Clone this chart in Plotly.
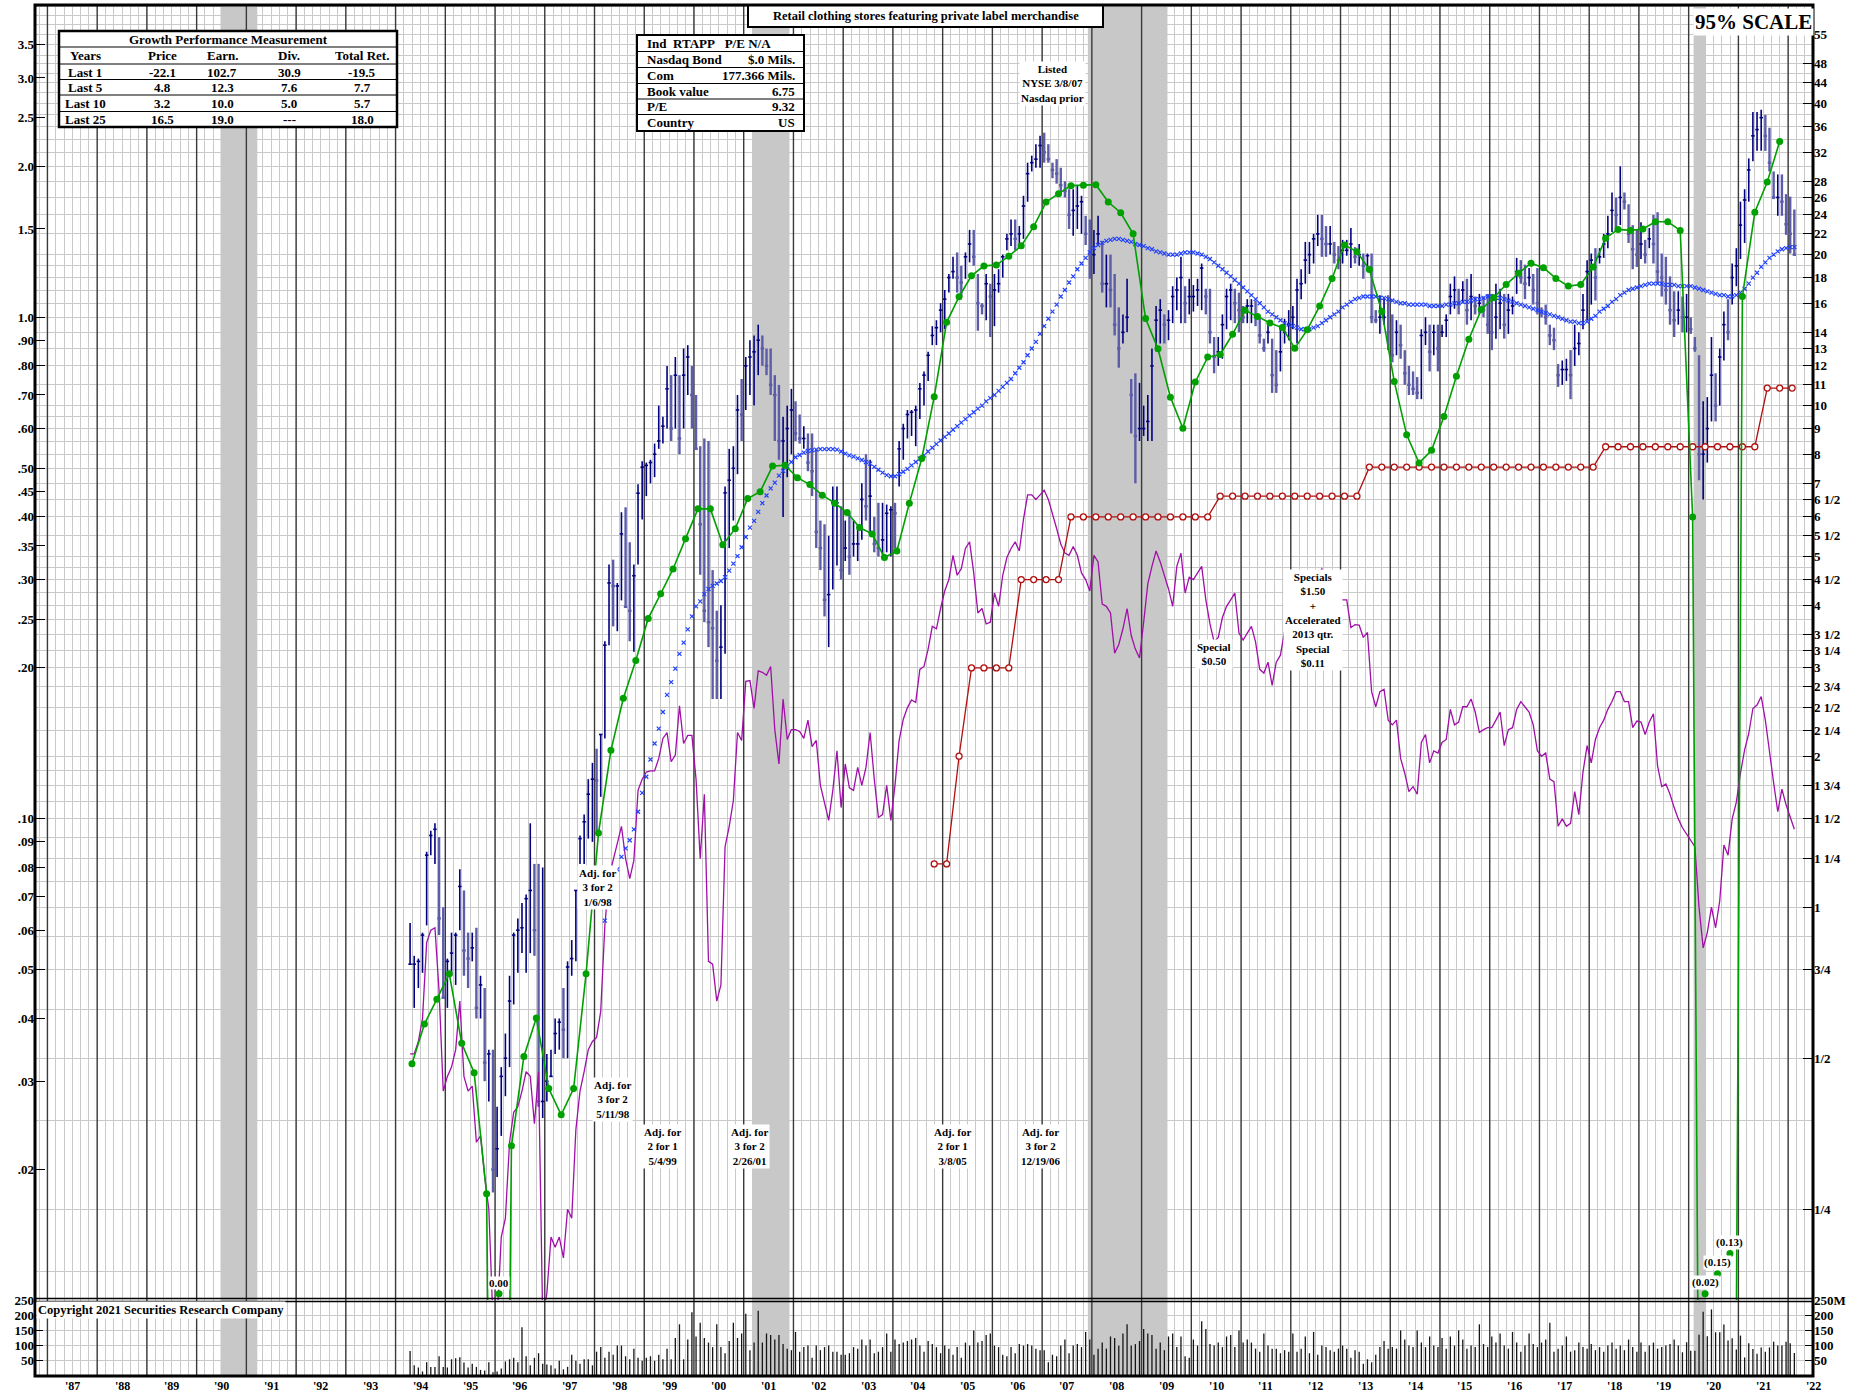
import math
import plotly.graph_objects as go

# ---------------- DATA ----------------
# Monthly price bars (right-hand price scale), first bar April 1994, last Feb 2022
price_high = [
    0.93, 0.80, 0.79, 0.89, 1.29, 1.42, 1.47, 1.38, 1.00,                       # 1994 Apr-Dec
    0.79, 0.89, 0.89, 1.19, 1.08, 0.89, 0.89, 0.91, 0.73, 0.69, 0.52, 0.52,     # 1995
    0.40, 0.48, 0.56, 0.73, 0.89, 0.95, 1.02, 1.06, 1.47, 1.22, 1.22, 1.20,     # 1996
    0.51, 0.52, 0.60, 0.60, 0.69, 0.78, 0.86, 1.08, 1.39, 1.53, 1.80, 1.94,     # 1997
    2.07, 2.21, 3.39, 4.82, 4.93, 4.43, 6.13, 6.27, 5.34, 4.82, 6.97, 7.75,     # 1998
    7.7, 7.8, 8.4, 10.0, 9.5, 12.0, 11.5, 12.5, 11.5, 13.0, 13.2, 12.0,         # 1999
    10.5, 8.3, 8.6, 8.5, 4.7, 3.9, 4.0, 6.9, 8.2, 8.3, 10.5, 11.3,              # 2000
    12.5, 13.5, 13.8, 14.5, 13.8, 13.0, 13.0, 11.5, 11.0, 9.5, 10.0, 10.8,      # 2001
    10.2, 9.6, 9.1, 8.8, 8.8, 8.2, 5.9, 5.8, 5.5, 6.9, 6.9, 6.3,                # 2002
    5.9, 6.1, 5.9, 5.8, 7.0, 8.0, 7.8, 6.0, 6.4, 6.4, 6.35, 6.3,                # 2003
    6.4, 8.5, 9.2, 9.8, 9.8, 10.0, 11.1, 11.7, 12.8, 14.4, 14.8, 16.0,          # 2004
    17.0, 18.3, 19.8, 20.2, 19.0, 20.2, 22.4, 22.4, 18.3, 16.0, 18.3, 17.5,     # 2005
    18.3, 18.7, 20.0, 22.0, 23.5, 23.5, 22.8, 26.2, 30.5, 31.5, 33.2, 34.5,     # 2006
    35.0, 33.2, 30.5, 31.0, 29.8, 28.0, 27.0, 27.0, 27.5, 26.2, 23.9, 23.5,     # 2007
    22.4, 23.9, 21.3, 20.0, 20.0, 18.3, 15.7, 15.2, 17.9, 11.3, 11.6, 11.1,     # 2008
    10.0, 10.5, 13.0, 15.8, 16.3, 15.2, 15.5, 17.3, 18.0, 19.8, 17.3, 17.9,     # 2009
    17.4, 17.9, 19.2, 17.1, 17.1, 13.7, 13.7, 15.2, 17.1, 17.5, 17.1, 16.8,     # 2010
    15.8, 16.3, 16.3, 16.2, 14.9, 13.6, 14.6, 13.6, 12.9, 14.4, 14.9, 15.5,     # 2011
    15.8, 17.9, 18.7, 21.2, 21.2, 22.0, 24.0, 24.0, 22.8, 22.8, 21.2, 20.8,     # 2012
    21.4, 21.4, 22.6, 20.7, 21.0, 20.1, 20.1, 20.1, 15.5, 16.6, 16.4, 16.6,     # 2013
    15.2, 14.8, 14.5, 12.9, 12.0, 11.7, 11.4, 14.2, 15.0, 14.5, 14.5, 14.5,     # 2014
    14.5, 15.2, 17.5, 18.1, 17.1, 17.7, 17.9, 18.3, 16.5, 16.7, 16.5, 16.7,     # 2015
    16.7, 17.5, 17.1, 16.7, 16.7, 16.5, 19.7, 19.5, 19.1, 18.8, 18.3, 18.8,     # 2016
    15.7, 15.9, 14.5, 14.3, 12.1, 12.3, 12.4, 12.9, 14.5, 14.0, 16.7, 19.5,     # 2017
    20.1, 20.6, 20.6, 22.0, 23.9, 26.6, 26.0, 30.0, 26.6, 25.2, 22.9, 22.4,     # 2018
    23.2, 21.4, 22.6, 24.0, 24.3, 20.1, 19.8, 18.1, 16.9, 16.9, 16.5, 16.7,     # 2019
    15.0, 13.7, 12.6, 10.2, 10.4, 13.7, 11.6, 13.0, 15.4, 16.3, 19.2, 20.6,     # 2020
    25.5, 27.0, 31.1, 38.5, 38.5, 38.9, 38.0, 35.8, 29.3, 28.9, 28.9, 26.4,     # 2021
    26.1, 24.6,                                                                 # 2022 Jan-Feb
]
price_low = [
    0.77, 0.63, 0.69, 0.74, 0.92, 1.27, 1.22, 0.88, 0.66,
    0.63, 0.73, 0.70, 0.90, 0.73, 0.69, 0.78, 0.60, 0.60, 0.45, 0.41, 0.27,
    0.29, 0.35, 0.42, 0.48, 0.64, 0.74, 0.81, 0.74, 0.81, 0.80, 0.40, 0.38,
    0.41, 0.46, 0.51, 0.52, 0.50, 0.50, 0.73, 0.78, 1.22, 1.22, 1.37, 1.35,
    1.42, 1.66, 2.17, 3.33, 3.63, 3.55, 4.09, 3.97, 3.39, 3.23, 4.82, 5.93,
    6.6, 7.0, 7.2, 8.2, 8.4, 9.0, 8.5, 9.0, 8.0, 9.0, 10.5, 9.0,
    8.2, 4.6, 3.7, 3.3, 2.6, 2.6, 2.6, 3.2, 5.2, 5.9, 7.3, 8.5,
    9.8, 10.5, 10.0, 11.5, 12.0, 11.5, 10.5, 8.5, 7.8, 6.0, 7.2, 8.0,
    8.5, 8.4, 8.2, 7.4, 6.6, 5.2, 4.7, 3.8, 3.3, 4.3, 4.8, 4.5,
    4.9, 4.6, 5.0, 4.9, 5.4, 5.9, 5.6, 5.1, 5.0, 5.0, 5.1, 5.0,
    5.2, 6.9, 7.8, 8.6, 8.7, 8.3, 9.4, 10.0, 11.2, 13.2, 13.2, 14.0,
    14.2, 16.8, 17.9, 16.8, 16.5, 17.9, 19.3, 19.0, 14.1, 15.2, 14.8, 13.7,
    14.4, 16.8, 18.0, 20.4, 20.8, 20.4, 20.8, 21.5, 25.5, 29.3, 29.8, 29.8,
    30.5, 30.5, 28.4, 27.7, 26.4, 26.0, 22.5, 21.8, 22.5, 22.0, 20.9, 17.9,
    18.3, 20.9, 16.8, 15.7, 15.7, 13.8, 11.9, 13.3, 14.0, 8.8, 7.0, 8.5,
    8.7, 8.5, 8.5, 13.0, 13.3, 13.3, 13.5, 14.6, 15.5, 14.6, 14.6, 15.2,
    15.4, 15.8, 15.5, 15.2, 13.3, 11.6, 12.0, 12.4, 14.2, 14.8, 14.6, 14.0,
    14.6, 14.6, 14.6, 14.4, 13.3, 12.8, 13.3, 10.6, 10.6, 11.7, 13.3, 13.5,
    14.2, 13.3, 16.3, 17.5, 18.3, 19.2, 20.8, 19.8, 19.8, 20.0, 19.2, 18.7,
    19.2, 19.9, 18.8, 19.2, 19.0, 17.9, 18.8, 14.6, 14.6, 13.9, 14.5, 12.9,
    12.2, 12.6, 12.4, 11.0, 10.5, 10.5, 10.3, 10.3, 13.2, 11.7, 12.6, 11.7,
    13.7, 13.7, 15.2, 15.6, 15.2, 16.0, 14.5, 14.8, 15.2, 15.2, 15.0, 13.9,
    12.9, 13.6, 14.2, 13.6, 13.9, 15.2, 16.7, 17.5, 16.3, 17.3, 15.9, 15.2,
    15.0, 14.5, 13.2, 12.9, 10.9, 11.0, 11.2, 10.3, 12.0, 12.6, 14.2, 14.8,
    15.9, 16.2, 19.2, 19.7, 20.6, 22.2, 22.4, 22.9, 24.6, 21.1, 18.7, 18.9,
    19.6, 19.2, 20.6, 19.2, 17.5, 16.5, 15.9, 14.5, 13.7, 14.5, 14.0, 14.0,
    13.9, 12.8, 7.1, 6.5, 7.7, 9.3, 9.3, 10.0, 12.3, 13.5, 15.9, 17.3,
    19.6, 21.1, 25.5, 30.7, 32.2, 32.2, 32.2, 29.3, 25.8, 23.9, 23.9, 21.9,
    20.1, 19.9,
]
price_close = [
    0.77, 0.77, 0.78, 0.88, 1.27, 1.39, 1.43, 0.95, 0.66,
    0.78, 0.81, 0.88, 1.10, 0.82, 0.79, 0.83, 0.63, 0.70, 0.49, 0.51, 0.30,
    0.33, 0.46, 0.50, 0.65, 0.88, 0.90, 0.91, 1.04, 1.08, 0.90, 0.41, 0.41,
    0.45, 0.46, 0.56, 0.59, 0.57, 0.76, 0.79, 1.08, 1.37, 1.48, 1.68, 1.80,
    1.79, 2.21, 3.33, 4.43, 4.37, 4.37, 5.55, 3.97, 3.90, 4.58, 6.69, 7.54,
    7.6, 7.7, 8.0, 8.5, 9.1, 10.8, 9.0, 11.5, 8.6, 11.5, 12.5, 10.5,
    8.2, 5.8, 3.9, 3.7, 3.6, 3.1, 3.3, 6.7, 7.1, 7.5, 9.8, 9.6,
    12.0, 12.5, 12.8, 13.5, 13.0, 12.0, 11.0, 10.5, 8.5, 8.5, 9.0, 9.8,
    8.8, 8.6, 8.6, 7.7, 7.4, 5.6, 5.2, 4.1, 4.2, 6.4, 6.4, 4.7,
    5.2, 5.0, 5.3, 5.3, 6.5, 6.3, 6.6, 5.3, 5.2, 5.4, 6.1, 6.2,
    6.1, 8.2, 9.0, 9.6, 9.7, 9.8, 10.8, 11.5, 12.6, 13.8, 14.3, 15.5,
    16.3, 18.0, 18.5, 18.0, 17.6, 19.8, 21.0, 19.8, 16.0, 15.8, 17.5, 16.5,
    17.0, 17.5, 19.8, 21.5, 22.0, 21.5, 22.0, 25.0, 29.0, 30.5, 31.0, 33.0,
    32.0, 31.0, 29.5, 29.0, 27.5, 26.8, 24.0, 24.5, 25.0, 25.5, 22.0, 20.0,
    20.0, 22.0, 17.5, 17.5, 17.0, 14.5, 13.0, 14.0, 15.0, 10.5, 8.7, 9.0,
    9.0, 9.3, 12.0, 14.8, 15.5, 14.5, 14.8, 16.5, 17.0, 18.0, 16.0, 16.5,
    16.5, 17.0, 18.8, 16.5, 14.0, 12.5, 12.8, 14.5, 16.5, 17.0, 16.0, 15.5,
    15.0, 15.8, 15.8, 15.0, 13.8, 13.0, 14.0, 11.5, 11.0, 12.8, 14.0, 14.5,
    15.0, 17.0, 17.5, 19.5, 20.0, 21.5, 22.0, 21.5, 21.0, 21.0, 20.0, 19.5,
    20.4, 20.4, 21.0, 19.8, 20.0, 19.0, 19.9, 15.0, 14.8, 15.0, 15.0, 14.0,
    12.6, 14.0, 13.2, 11.6, 11.0, 10.8, 10.6, 13.8, 14.0, 12.8, 14.0, 13.0,
    14.0, 14.8, 16.5, 17.0, 16.0, 17.0, 15.5, 16.5, 15.8, 16.0, 15.5, 14.5,
    14.0, 15.0, 16.0, 14.5, 15.5, 15.8, 18.5, 18.0, 17.5, 18.0, 17.0, 16.0,
    15.3, 15.0, 13.8, 13.5, 11.5, 11.8, 11.8, 11.5, 13.0, 13.3, 15.5, 18.5,
    19.5, 18.0, 19.8, 21.0, 22.0, 24.5, 24.0, 26.0, 25.5, 22.0, 20.5, 20.0,
    21.0, 20.0, 21.5, 21.0, 18.5, 18.0, 17.0, 15.5, 14.8, 15.5, 15.0, 15.0,
    14.2, 13.0, 8.0, 8.0, 9.0, 11.5, 10.0, 12.5, 14.5, 14.0, 18.0, 19.0,
    22.9, 25.7, 29.5, 34.5, 35.5, 37.5, 34.5, 30.5, 26.0, 26.0, 25.5, 23.0,
    22.0, 20.0,
]

# Moving average (blue x's), monthly from March 1998
ma_values = [
    0.94, 1.02, 1.11, 1.19, 1.26, 1.31, 1.36, 1.43, 1.55, 1.69,                  # 1998 Mar-Dec
    1.82, 1.97, 2.12, 2.27, 2.45, 2.65, 2.81, 2.99, 3.20, 3.37, 3.58, 3.80,      # 1999
    3.98, 4.07, 4.21, 4.31, 4.37, 4.42, 4.47, 4.55, 4.69, 4.84, 5.01, 5.22,      # 2000
    5.47, 5.71, 5.89, 6.14, 6.39, 6.62, 6.84, 7.02, 7.25, 7.41, 7.56, 7.72,      # 2001
    7.89, 7.97, 8.06, 8.12, 8.14, 8.17, 8.19, 8.19, 8.19, 8.19, 8.17, 8.10,      # 2002
    8.02, 7.96, 7.91, 7.85, 7.79, 7.72, 7.66, 7.55, 7.45, 7.35, 7.27, 7.23,      # 2003
    7.23, 7.30, 7.38, 7.48, 7.60, 7.72, 7.84, 7.96, 8.10, 8.24, 8.38, 8.52,      # 2004
    8.66, 8.80, 8.95, 9.10, 9.25, 9.40, 9.55, 9.70, 9.86, 10.0, 10.2, 10.35,     # 2005
    10.5, 10.7, 10.9, 11.1, 11.3, 11.6, 11.9, 12.2, 12.6, 13.0, 13.4, 13.9,      # 2006
    14.4, 14.9, 15.4, 15.9, 16.5, 17.0, 17.6, 18.1, 18.7, 19.2, 19.7, 20.2,      # 2007
    20.6, 20.9, 21.1, 21.3, 21.4, 21.5, 21.5, 21.4, 21.3, 21.2, 21.0, 20.9,      # 2008
    20.8, 20.6, 20.5, 20.3, 20.2, 20.1, 20.0, 20.0, 20.0, 20.1, 20.2, 20.2,      # 2009
    20.2, 20.1, 20.0, 19.8, 19.6, 19.3, 19.0, 18.7, 18.4, 18.1, 17.8, 17.5,      # 2010
    17.2, 16.9, 16.6, 16.3, 16.0, 15.7, 15.4, 15.2, 15.0, 14.8, 14.6, 14.5,      # 2011
    14.4, 14.3, 14.2, 14.2, 14.2, 14.3, 14.4, 14.6, 14.8, 15.0, 15.2, 15.4,      # 2012
    15.7, 15.9, 16.1, 16.3, 16.4, 16.5, 16.5, 16.5, 16.5, 16.4, 16.4, 16.3,      # 2013
    16.2, 16.1, 16.0, 16.0, 15.9, 15.9, 15.9, 15.9, 15.9, 15.8, 15.8, 15.8,      # 2014
    15.8, 15.9, 15.9, 16.0, 16.0, 16.1, 16.1, 16.2, 16.3, 16.3, 16.4, 16.5,      # 2015
    16.5, 16.4, 16.4, 16.3, 16.2, 16.1, 16.0, 15.9, 15.8, 15.7, 15.6, 15.5,      # 2016
    15.4, 15.3, 15.2, 15.1, 15.0, 14.9, 14.8, 14.7, 14.7, 14.6, 14.6, 14.7,      # 2017
    14.9, 15.1, 15.4, 15.6, 15.8, 16.1, 16.3, 16.6, 16.8, 17.0, 17.1, 17.2,      # 2018
    17.3, 17.4, 17.5, 17.5, 17.5, 17.5, 17.4, 17.4, 17.4, 17.3, 17.3, 17.3,      # 2019
    17.3, 17.2, 17.1, 17.0, 16.9, 16.8, 16.7, 16.6, 16.6, 16.5, 16.5, 16.6,      # 2020
    16.8, 17.1, 17.5, 18.0, 18.4, 18.9, 19.3, 19.7, 20.0, 20.3, 20.5, 20.6,      # 2021
    20.7, 20.7,                                                                  # 2022
]

# Relative strength line (magenta), monthly from April 1994
rs_values = [
    0.51, 0.51, 0.54, 0.60, 0.85, 0.90, 0.91, 0.68, 0.43,
    0.46, 0.48, 0.52, 0.65, 0.46, 0.43, 0.44, 0.34, 0.35, 0.29, 0.25, 0.15,
    0.15, 0.22, 0.24, 0.34, 0.39, 0.40, 0.43, 0.47, 0.46, 0.37, 0.47, 0.15,
    0.17, 0.22, 0.21, 0.22, 0.20, 0.25, 0.24, 0.36, 0.43, 0.47, 0.52, 0.54,
    0.55, 0.62, 0.92, 1.15, 1.25, 1.34, 1.45, 1.25, 1.14, 1.24, 1.71, 1.80,
    1.86, 1.87, 1.87, 1.98, 2.17, 2.23, 1.95, 2.01, 2.52, 2.12, 2.20, 2.20,
    1.80, 1.25, 1.68, 0.78, 0.77, 0.65, 0.70, 1.32, 1.45, 1.63, 2.23, 2.15,
    2.82, 2.83, 2.49, 2.96, 2.94, 2.90, 3.02, 2.26, 1.93, 2.60, 2.16, 2.26,
    2.26, 2.24, 2.17, 2.36, 2.09, 2.15, 1.75, 1.62, 1.49, 1.71, 2.05, 1.58,
    1.93, 1.73, 1.71, 1.90, 1.75, 1.90, 2.23, 1.80, 1.51, 1.53, 1.75, 1.49,
    1.75, 2.15, 2.37, 2.50, 2.59, 2.56, 2.98, 3.02, 3.27, 3.63, 3.59, 3.94,
    4.27, 4.50, 5.03, 4.59, 4.73, 5.19, 5.35, 4.64, 3.86, 3.94, 3.67, 3.70,
    4.23, 3.98, 4.59, 4.98, 5.19, 5.35, 5.13, 5.93, 6.64, 6.64, 6.50, 6.64,
    6.78, 6.50, 6.11, 5.69, 5.30, 5.08, 5.03, 5.24, 5.03, 4.64, 4.50, 4.27,
    5.03, 4.88, 4.02, 3.98, 3.86, 3.21, 3.34, 3.59, 3.94, 3.48, 3.27, 3.14,
    3.70, 4.41, 4.78, 5.13, 4.88, 4.59, 4.31, 3.98, 4.78, 5.08, 4.23, 4.55,
    4.50, 4.64, 4.78, 4.10, 3.67, 3.38, 3.45, 3.78, 3.98, 4.10, 4.23, 3.52,
    3.41, 3.52, 3.63, 3.38, 2.98, 2.93, 3.08, 2.77, 3.08, 3.18, 3.55, 3.45,
    3.55, 3.75, 3.95, 4.10, 4.25, 4.40, 4.60, 4.73, 4.55, 4.40, 4.25, 4.15,
    4.10, 4.10, 3.61, 3.66, 3.65, 3.45, 3.53, 2.69, 2.51, 2.69, 2.72, 2.36,
    2.31, 2.36, 1.98, 1.85, 1.70, 1.74, 1.68, 2.13, 2.21, 1.94, 2.05, 2.03,
    2.13, 2.16, 2.48, 2.31, 2.34, 2.51, 2.51, 2.60, 2.45, 2.23, 2.26, 2.28,
    2.28, 2.36, 2.45, 2.10, 2.26, 2.28, 2.48, 2.57, 2.51, 2.45, 2.31, 2.05,
    2.00, 2.03, 1.80, 1.78, 1.45, 1.50, 1.45, 1.47, 1.70, 1.53, 1.86, 2.10,
    1.94, 2.16, 2.28, 2.36, 2.48, 2.57, 2.69, 2.69, 2.57, 2.57, 2.28, 2.35,
    2.34, 2.21, 2.34, 2.43, 1.91, 1.74, 1.76, 1.68, 1.58, 1.50, 1.44, 1.40,
    1.36, 1.32, 1.00, 0.83, 0.89, 1.00, 0.91, 1.03, 1.33, 1.27, 1.50, 1.62,
    1.85, 2.06, 2.22, 2.49, 2.53, 2.63, 2.36, 2.03, 1.77, 1.55, 1.72, 1.60,
    1.51, 1.43,
]

# Monthly volume (millions of shares), from April 1994
volume_values = [
    82, 35, 28, 15, 45, 30, 30, 65, 30,
    28, 55, 58, 62, 44, 28, 40, 30, 20, 18, 45, 12,
    15, 25, 48, 55, 60, 45, 160, 65, 35, 60, 75, 40,
    38, 35, 25, 50, 22, 30, 70, 50, 40, 55, 55, 35,
    80, 95, 60, 80, 70, 100, 100, 65, 55, 90, 60, 50,
    60, 65, 50, 70, 55, 90, 55, 125, 170, 55, 120, 210,
    130, 175, 125, 110, 95, 170, 95, 75, 115, 175, 125, 140,
    205, 85, 110, 215, 110, 140, 135, 120, 135, 105, 90, 85,
    145, 80, 95, 100, 60, 100, 85, 95, 100, 80, 80, 70,
    70, 75, 95, 90, 120, 100, 120, 75, 80, 95, 140, 80,
    120, 105, 110, 115, 120, 125, 100, 80, 115, 105, 95, 75,
    100, 90, 70, 95, 60, 110, 100, 150, 110, 115, 135, 140,
    100, 95, 70, 65, 95, 75, 105, 100, 105, 100, 90, 85,
    85, 45, 70, 65, 100, 120, 75, 100, 105, 95, 145, 120,
    70, 90, 110, 90, 130, 125, 100, 140, 170, 100, 105, 115,
    155, 140, 135, 90, 110, 85, 130, 140, 95, 130, 65, 60,
    120, 100, 180, 155, 105, 100, 110, 95, 130, 135, 95, 150,
    110, 120, 110, 90, 80, 140, 100, 90, 90, 75, 85, 80,
    140, 80, 90, 130, 75, 145, 70, 100, 95, 85, 80, 90,
    100, 90, 60, 85, 80, 40, 55, 45, 70, 95, 115, 90,
    95, 90, 150, 120, 100, 95, 150, 110, 95, 130, 100, 95,
    125, 90, 130, 100, 150, 120, 90, 100, 95, 170, 105, 95,
    130, 110, 140, 100, 90, 145, 110, 80, 100, 140, 105, 95,
    110, 120, 175, 80, 90, 100, 130, 80, 85, 110, 95, 90,
    105, 85, 95, 80, 100, 110, 90, 100, 85, 120, 95, 80,
    110, 80, 100, 110, 90, 95, 100, 105, 120, 100, 78, 111,
    83, 83, 136, 211, 131, 219, 144, 144, 169, 117, 124, 87,
    133, 61, 108, 89, 73, 94, 80, 94, 113, 100, 100, 113,
    108, 76,
]

# Quarterly 12-month earnings per share (left-hand scale), first point end of April 1994
eps_values = [
    0.0325, 0.0390, 0.0437, 0.0491, 0.0357, 0.0312, 0.0179, 0.00, 0.0223, 0.0336,
    0.0401, 0.0290, 0.0257, 0.0290, 0.0491, 0.0937, 0.137, 0.174, 0.207, 0.251,
    0.281, 0.315, 0.362, 0.415, 0.415, 0.352, 0.379, 0.435, 0.449, 0.505,
    0.507, 0.479, 0.464, 0.442, 0.426, 0.408, 0.381, 0.370, 0.332, 0.342,
    0.426, 0.523, 0.694, 0.977, 1.099, 1.210, 1.266, 1.271, 1.324, 1.388,
    1.516, 1.697, 1.764, 1.830, 1.834, 1.838, 1.697, 1.616, 1.467, 0.994,
    0.865, 0.693, 0.601, 0.743, 0.833, 0.843, 0.925, 1.033, 1.004, 0.974,
    0.954, 0.867, 0.944, 1.053, 1.195, 1.394, 1.351, 1.245, 1.027, 0.745,
    0.583, 0.512, 0.543, 0.634, 0.763, 0.904, 1.036, 1.094, 1.162, 1.224,
    1.282, 1.256, 1.195, 1.154, 1.162, 1.259, 1.438, 1.497, 1.49, 1.50,
    1.55, 1.55, 1.49, 0.40, -0.02, -0.15, -0.13, 1.10, 1.62, 1.86,
    2.24,
]
eps_labels = {7: "0.00", 104: "(0.02)", 105: "(0.15)", 106: "(0.13)"}

# Quarterly dividend line (price scale), first point late 2004
div_values = (
    [1.22, 1.22, 2.0] + [3.0] * 4 + [4.5] * 4 + [6.0] * 12 + [6.6] * 12
    + [7.54] * 19 + [8.28] * 13 + [10.84] * 3
)

recessions = [(1990.48, 1991.22), (2001.17, 2001.92), (2007.92, 2009.52), (2020.10, 2020.35)]

left_ticks = [3.5, 3.0, 2.5, 2.0, 1.5, 1.0, 0.9, 0.8, 0.7, 0.6, 0.5, 0.45, 0.4, 0.35,
              0.3, 0.25, 0.2, 0.1, 0.09, 0.08, 0.07, 0.06, 0.05, 0.04, 0.03, 0.02]
left_labels = ["3.5", "3.0", "2.5", "2.0", "1.5", "1.0", ".90", ".80", ".70", ".60", ".50",
               ".45", ".40", ".35", ".30", ".25", ".20", ".10", ".09", ".08", ".07", ".06",
               ".05", ".04", ".03", ".02"]
right_ticks = [55, 48, 44, 40, 36, 32, 28, 26, 24, 22, 20, 18, 16, 14, 13, 12, 11, 10, 9, 8, 7,
               6.5, 6, 5.5, 5, 4.5, 4, 3.5, 3.25, 3, 2.75, 2.5, 2.25, 2, 1.75, 1.5, 1.25, 1,
               0.75, 0.5, 0.25]
right_labels = ["55", "48", "44", "40", "36", "32", "28", "26", "24", "22", "20", "18", "16",
                "14", "13", "12", "11", "10", "9", "8", "7", "6 1/2", "6", "5 1/2", "5",
                "4 1/2", "4", "3 1/2", "3 1/4", "3", "2 3/4", "2 1/2", "2 1/4", "2", "1 3/4",
                "1 1/2", "1 1/4", "1", "3/4", "1/2", "1/4"]
vol_ticks = [50, 100, 150, 200, 250]
years = list(range(1987, 2023))

growth_rows = [
    ["Last 1", "-22.1", "102.7", "30.9", "-19.5"],
    ["Last 5", "4.8", "12.3", "7.6", "7.7"],
    ["Last 10", "3.2", "10.0", "5.0", "5.7"],
    ["Last 25", "16.5", "19.0", "---", "18.0"],
]
growth_header = ["Years", "Price", "Earn.", "Div.", "Total Ret."]
info_rows = [
    ("Ind&nbsp;&nbsp;RTAPP&nbsp;&nbsp;&nbsp;P/E N/A", ""),
    ("Nasdaq Bond", "$.0 Mils."),
    ("Com", "177.366 Mils."),
    ("Book value", "6.75"),
    ("P/E", "9.32"),
    ("Country", "US"),
]

# ---------------- LAYOUT CONSTANTS ----------------
FIG_W, FIG_H = 1860, 1393
L, R, T, B = 35, 1813, 5, 1376
SPLIT = 1300
EPS_RATIO = 15.0          # earnings scale = price scale / 15
P_TOP, P_BOT = 62.9, 0.1648
W, H = R - L, B - T


def px(x):
    return (x - L) / W


def py(y):
    return (B - y) / H


FONT = "Liberation Serif"
NAVY = "#000080"
NAVY_LIGHT = "#5c5ca8"
GREEN = "#00a000"
RED = "#b01010"
MAGENTA = "#a010a8"
BLUE = "#2040ff"
GRID = "#c9c9c9"


def frange(a, b, step):
    out, k = [], 0
    while a + k * step <= b + 1e-9:
        out.append(round(a + k * step, 4))
        k += 1
    return out


# horizontal price-panel grid (chart-paper ruling)
price_grid = ([0.1875] + frange(0.25, 2.0, 0.125) + frange(2.25, 5.0, 0.25)
              + frange(5.5, 10.0, 0.5) + frange(11, 20, 1) + frange(22, 50, 2)
              + frange(52.5, 62.5, 2.5))


def month_times(y, m, n):
    out = []
    for _ in range(n):
        out.append(y + (m - 0.5) / 12.0)
        m += 1
        if m > 12:
            m, y = 1, y + 1
    return out


t_price = month_times(1994, 4, len(price_close))
t_ma = month_times(1998, 3, len(ma_values))
t_rs = month_times(1994, 4, len(rs_values))
t_vol = month_times(1994, 4, len(volume_values))
t_eps = [1994.33 + 0.25 * i for i in range(len(eps_values))]
t_div = [2004.83 + 0.25 * i for i in range(len(div_values))]

fig = go.Figure()
PY_LO, PY_HI = 0.01, 1000.0

# invisible anchors so the left earnings axis and right volume axis are drawn
fig.add_trace(go.Scatter(x=[1986.8], y=[1.0], mode="markers", marker=dict(opacity=0),
                         yaxis="y", hoverinfo="skip"))
fig.add_trace(go.Scatter(x=[1986.8], y=[100], mode="markers", marker=dict(opacity=0),
                         yaxis="y4", hoverinfo="skip"))

# recession shading (price and volume panels)
for a, b in recessions:
    fig.add_trace(go.Scatter(x=[a, b, b, a, a], y=[PY_LO, PY_LO, PY_HI, PY_HI, PY_LO],
                             fill="toself", fillcolor="#c8c8c8", mode="lines",
                             line=dict(width=0), yaxis="y2", hoverinfo="skip"))
    fig.add_trace(go.Scatter(x=[a, b, b, a, a], y=[0, 0, 300, 300, 0],
                             fill="toself", fillcolor="#c8c8c8", mode="lines",
                             line=dict(width=0), yaxis="y3", hoverinfo="skip"))

# dark year lines
yl_x, yl_y, yv_y = [], [], []
for yv in years:
    yl_x += [yv, yv, None]
    yl_y += [PY_LO, PY_HI, None]
    yv_y += [0, 300, None]
fig.add_trace(go.Scatter(x=yl_x, y=yl_y, mode="lines", line=dict(color="#3a3a3a", width=1.4),
                         yaxis="y2", hoverinfo="skip"))
fig.add_trace(go.Scatter(x=yl_x, y=yv_y, mode="lines", line=dict(color="#3a3a3a", width=1.4),
                         yaxis="y3", hoverinfo="skip"))

# volume
vx, vy = [], []
for t, v in zip(t_vol, volume_values):
    vx += [t, t, None]
    vy += [0, v, None]
fig.add_trace(go.Scatter(x=vx, y=vy, mode="lines", line=dict(color="#151515", width=1.3),
                         yaxis="y3", hoverinfo="skip"))

# price bars
ux, uy, dx, dy = [], [], [], []
prev = None
for t, h, lo, c in zip(t_price, price_high, price_low, price_close):
    up = prev is None or c >= prev
    xs, ys = (ux, uy) if up else (dx, dy)
    xs += [t, t, None, t - 0.035, t + 0.035, None]
    ys += [lo, h, None, c, c, None]
    prev = c
fig.add_trace(go.Scatter(x=dx, y=dy, mode="lines", line=dict(color=NAVY_LIGHT, width=2.4),
                         yaxis="y2", hoverinfo="skip"))
fig.add_trace(go.Scatter(x=ux, y=uy, mode="lines", line=dict(color=NAVY, width=1.6),
                         yaxis="y2", hoverinfo="skip"))

# relative strength
fig.add_trace(go.Scatter(x=t_rs, y=rs_values, mode="lines", line=dict(color=MAGENTA, width=1.3),
                         yaxis="y2", hoverinfo="skip"))

# moving average
fig.add_trace(go.Scatter(x=t_ma, y=ma_values, mode="markers",
                         marker=dict(symbol="x-thin", size=4, line=dict(color=BLUE, width=1.2)),
                         yaxis="y2", hoverinfo="skip"))

# dividends
fig.add_trace(go.Scatter(x=t_div, y=div_values, mode="lines+markers",
                         line=dict(color=RED, width=1.3),
                         marker=dict(symbol="circle", size=6, color="white",
                                     line=dict(color=RED, width=1.3)),
                         yaxis="y2", hoverinfo="skip"))

# earnings, drawn on the price scale at 15x (the left-hand scale); deficits drop off the bottom
eps_plot = [v * EPS_RATIO if v > 0 else 1e-3 for v in eps_values]
fig.add_trace(go.Scatter(x=t_eps, y=eps_plot, mode="lines+markers",
                         line=dict(color=GREEN, width=1.6),
                         marker=dict(symbol="circle", size=7, color=GREEN),
                         yaxis="y2", hoverinfo="skip"))
deficit_levels = [0.0113, 0.0113, 0.0124, 0.0136]   # plotting heights (earnings scale) of deficit marks
def_idx = sorted(eps_labels)
fig.add_trace(go.Scatter(x=[t_eps[i] for i in def_idx], y=[v * EPS_RATIO for v in deficit_levels],
                         mode="markers", marker=dict(symbol="circle", size=7, color=GREEN),
                         yaxis="y2", hoverinfo="skip", cliponaxis=False))

annotations = []
shapes = []
bold = dict(family=FONT, weight="bold", color="black")


def note(x, y, text, size=13, xanchor="center", bg=None, **kw):
    d = dict(x=px(x), y=py(y), xref="paper", yref="paper", text=text, showarrow=False,
             xanchor=xanchor, yanchor="middle", font=dict(size=size, **bold), align="center")
    if bg:
        d.update(bgcolor=bg, borderpad=1)
    d.update(kw)
    annotations.append(d)


for i, lev in zip(def_idx, deficit_levels):
    annotations.append(dict(x=t_eps[i], y=math.log10(lev * EPS_RATIO), xref="x", yref="y2",
                            text=eps_labels[i], showarrow=False, yshift=11,
                            xanchor="center", yanchor="middle",
                            font=dict(size=11, **bold), bgcolor="white", borderpad=0))

# year labels
for yv in years:
    annotations.append(dict(x=yv + 0.5, y=0, xref="x", yref="paper", yanchor="top",
                            xanchor="center", text="'%02d" % (yv % 100), showarrow=False,
                            yshift=-1, font=dict(size=12, **bold)))

# event notes
notes = [
    (597, 887, "Adj. for<br>3 for 2<br>1/6/98"),
    (612, 1099, "Adj. for<br>3 for 2<br>5/11/98"),
    (662, 1146, "Adj. for<br>2 for 1<br>5/4/99"),
    (749, 1146, "Adj. for<br>3 for 2<br>2/26/01"),
    (953, 1146, "Adj. for<br>2 for 1<br>3/8/05"),
    (1041, 1146, "Adj. for<br>3 for 2<br>12/19/06"),
    (1052, 84, "Listed<br>NYSE 3/8/07<br>Nasdaq prior"),
    (1214, 654, "Special<br>$0.50"),
    (1313, 620, "Specials<br>$1.50<br>+<br>Accelerated<br>2013 qtr.<br>Special<br>$0.11"),
]
for x, y, txt in notes:
    note(x, y, txt, size=11, bg="white")

# Growth table
shapes.append(dict(type="rect", xref="paper", yref="paper", x0=px(59), x1=px(397),
                   y0=py(127), y1=py(31), fillcolor="white", line=dict(color="black", width=2.5),
                   layer="above"))
for yy in [47, 64, 79.5, 95, 111.5]:
    shapes.append(dict(type="line", xref="paper", yref="paper", x0=px(59), x1=px(397),
                       y0=py(yy), y1=py(yy), line=dict(color="black", width=1), layer="above"))
note(228, 39.5, "Growth Performance Measurement")
col_x = [85, 162, 222, 289, 362]
for cx, txt in zip(col_x, growth_header):
    note(cx, 56, txt)
for ry, row in zip([72, 87.5, 103.5, 119.5], growth_rows):
    for cx, txt in zip(col_x, row):
        note(cx, ry, txt)

# Info box
shapes.append(dict(type="rect", xref="paper", yref="paper", x0=px(637), x1=px(804),
                   y0=py(131), y1=py(35), fillcolor="white", line=dict(color="black", width=2),
                   layer="above"))
for yy in [51.5, 67.5, 83.5, 99, 114.5]:
    shapes.append(dict(type="line", xref="paper", yref="paper", x0=px(637), x1=px(804),
                       y0=py(yy), y1=py(yy), line=dict(color="black", width=1), layer="above"))
for ry, (lt, rt) in zip([43.5, 59.5, 75.5, 91.3, 106.8, 122.8], info_rows):
    note(645, ry, lt, xanchor="left")
    if rt:
        note(797, ry, rt, xanchor="right")

# Title box
shapes.append(dict(type="rect", xref="paper", yref="paper", x0=px(748), x1=px(1103),
                   y0=py(27), y1=py(5), fillcolor="white", line=dict(color="black", width=2),
                   layer="above"))
note(926, 16.5, "Retail clothing stores featuring private label merchandise", size=12.5)

note(1753, 22, "95% SCALE", size=21, bg="white")
note(36, 1310, "Copyright 2021 Securities Research Company", size=12.5, xanchor="left", bg="white")

# frame and panel separator
shapes.append(dict(type="rect", xref="paper", yref="paper", x0=0, x1=1, y0=0, y1=1,
                   line=dict(color="black", width=3), layer="above"))
for yy in [SPLIT - 1.5, SPLIT + 1.5]:
    shapes.append(dict(type="line", xref="paper", yref="paper", x0=0, x1=1, y0=py(yy), y1=py(yy),
                       line=dict(color="black", width=1.5), layer="above"))

split_dom = py(SPLIT)
tickfont = dict(size=13, **bold)

fig.update_layout(
    width=FIG_W, height=FIG_H,
    margin=dict(l=L, r=FIG_W - R, t=T, b=FIG_H - B, pad=0, autoexpand=False),
    paper_bgcolor="white", plot_bgcolor="white", showlegend=False,
    xaxis=dict(range=[1986.75, 2022.5], showticklabels=False, ticks="", zeroline=False,
               showgrid=True, gridcolor=GRID, gridwidth=1, dtick=1, tick0=1987,
               minor=dict(dtick=1 / 6, tick0=1987, showgrid=True, gridcolor=GRID, gridwidth=1),
               anchor="y3", showline=False, automargin=False),
    yaxis=dict(type="log", domain=[split_dom, 1],
               range=[math.log10(P_BOT / EPS_RATIO), math.log10(P_TOP / EPS_RATIO)],
               tickmode="array", tickvals=left_ticks, ticktext=left_labels,
               ticks="inside", ticklen=10, tickwidth=1, tickcolor="black",
               showgrid=False, zeroline=False, showline=False, tickfont=tickfont,
               anchor="x", side="left", automargin=False),
    yaxis2=dict(type="log", overlaying="y", side="right",
                range=[math.log10(P_BOT), math.log10(P_TOP)],
                tickmode="array", tickvals=right_ticks, ticktext=right_labels,
                ticks="inside", ticklen=10, tickwidth=1, tickcolor="black",
                showgrid=True, gridcolor=GRID, gridwidth=1, zeroline=False, showline=False,
                minor=dict(tickmode="array", tickvals=price_grid,
                           showgrid=True, gridcolor=GRID, gridwidth=1, ticks=""),
                tickfont=tickfont, anchor="x", automargin=False),
    yaxis3=dict(domain=[0, split_dom], range=[0, 250], tickmode="array",
                tickvals=vol_ticks, ticktext=[str(v) for v in vol_ticks],
                ticks="inside", ticklen=8, tickcolor="black", showgrid=True, gridcolor=GRID,
                zeroline=False, tickfont=tickfont, anchor="x", side="left", automargin=False),
    yaxis4=dict(overlaying="y3", side="right", range=[0, 250], tickmode="array",
                tickvals=vol_ticks, ticktext=[str(v) for v in vol_ticks[:-1]] + ["250M"],
                ticks="inside", ticklen=8, tickcolor="black", showgrid=False,
                zeroline=False, tickfont=tickfont, anchor="x", automargin=False),
    annotations=annotations,
    shapes=shapes,
)

fig.write_html("out.html", config={"displayModeBar": False},
               post_script="document.body.style.margin='0';")
